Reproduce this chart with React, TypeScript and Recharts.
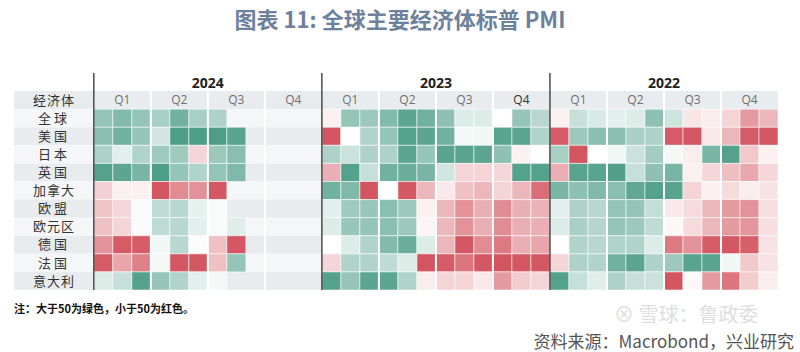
import React from 'react';
import { ScatterChart, Scatter, XAxis, YAxis, ReferenceArea, ReferenceLine } from 'recharts';

const countries = ['全球', '美国', '日本', '英国', '加拿大', '欧盟', '欧元区', '德国', '法国', '意大利'];
const years = ['2024', '2023', '2022'];
const quarters = ['Q1', 'Q2', 'Q3', 'Q4'];

// 按色深估读的 PMI（>50 绿，<50 红），每行 1-12 月
const pmi2024 = [
  [53, 53.5, 53, 52.5, 54, 52.5, 52.3, null, null, null, null, null],
  [53.3, 54, 53, 51.3, 55, 55, 55, 54.7, null, null, null, null],
  [52.3, 50.8, 52.2, 52.7, 52.7, 48.8, 52.8, 53.3, null, null, null, null],
  [54.8, 54.6, 53.8, 55, 53, 52.2, 53, 53.6, null, null, null, null],
  [48.7, 49.6, 49.6, 45.3, 46.8, 47, 45.4, null, null, null, null, null],
  [48.4, 48.9, 50.2, 51.8, 52, 50.7, 50.2, null, null, null, null, null],
  [48.3, 48.8, 50.2, 51.8, 52, 50.8, 50.2, 50.9, null, null, null, null],
  [47, 45.5, 45.5, 50.4, 52, 50.1, 48.3, 45.4, null, null, null, null],
  [45.5, 47.5, 46.5, 50.3, 45.4, 45.4, 48.3, 53, null, null, null, null],
  [51, 51.6, 54.8, 53, 52.2, 50.8, 50.3, null, null, null, null, null],
];

const pmi2023 = [
  [49.6, 53, 52.8, 53.5, 54.6, 54, 53.2, 51, 51, 50, 53, 52],
  [45.3, 50, 52.2, 53, 54.8, 54.6, 54, 50.3, 50.4, 54.7, 54.6, 52.2],
  [52.3, 51.5, 52.3, 52.3, 54.6, 53, 54.7, 54.7, 54.6, 53.2, 49.6, 50],
  [47.8, 54.8, 51.6, 54, 54.2, 53.8, 51.3, 48.8, 48.8, 48.9, 54.8, 54.8],
  [54, 53.6, 45.3, 50, 45.4, 48, 49.4, 48.3, 48, 48.8, 48, 46],
  [50.8, 52.7, 52.9, 53.3, 52.8, 49.6, 48, 47, 47.8, 46.8, 47.8, 47.9],
  [51, 52.9, 53, 53.3, 52.8, 49.7, 48, 47, 47.8, 46.8, 47.8, 47.8],
  [50, 51, 52.2, 53.5, 54.2, 51, 48, 45.4, 46.8, 46.3, 47.8, 47.5],
  [48.8, 52.2, 52.2, 51.8, 51, 45.3, 45.5, 46.2, 45.4, 45.3, 45.4, 45.4],
  [54.8, 53, 54.6, 54.6, 52.2, 49.5, 48.8, 48.8, 49.4, 47.2, 48.6, 48.8],
];

const pmi2022 = [
  [49.6, 51.6, 51.1, 50.8, 51, 53.2, 51.4, 49.3, 49.5, 48.8, 47.2, 48],
  [45.5, 52.8, 53.3, 53.3, 52.4, 52.3, 45.5, 45.4, 49.4, 48, 45.5, 45.4],
  [52.5, 45.3, 50, 50.4, 51.5, 52.6, 50.3, 49.5, 53.8, 54.8, 48.5, 49.6],
  [47.8, 54.7, 54.7, 54.9, 51.6, 53.2, 53.8, 49.6, 48.9, 48.2, 47.6, 48.9],
  [53.8, 53.2, 53.6, 53.3, 54.5, 54.8, 54.7, 48.8, 49.6, 49, 49.5, 49.2],
  [50.8, 52.3, 52, 53, 53, 51.7, 49.4, 49, 48, 47.2, 47, 49.1],
  [51, 52.4, 52.1, 53, 52.8, 51.8, 49.8, 49, 48, 47.2, 47.1, 49.1],
  [50, 52.2, 52, 52.2, 52.2, 51, 46.3, 47, 45.5, 45.4, 45.6, 49.2],
  [48.8, 52.3, 52.2, 54, 54.6, 52.3, 52.8, 54.7, 54.7, 50.4, 48.5, 49.2],
  [54.8, 51.6, 50.9, 52.3, 51.6, 51.5, 45.3, 49.8, 47.2, 46.2, 48.6, 49.5],
];

const blocks = [pmi2024, pmi2023, pmi2022];

const W = 800;
const H = 352;
const margin = { top: 73, right: 22, bottom: 62, left: 14 };
const X_DOMAIN: [number, number] = [-4.2, 36];
const Y_DOMAIN: [number, number] = [-2, 10];
const cellW = (W - margin.left - margin.right) / (X_DOMAIN[1] - X_DOMAIN[0]);
const cellH = (H - margin.top - margin.bottom) / (Y_DOMAIN[1] - Y_DOMAIN[0]);

const GREEN = [78, 158, 135];
const RED = [208, 74, 85];
const cellColor = (v: number) => {
  const t = Math.min(1, Math.abs(v - 50) / 5);
  const c = v >= 50 ? GREEN : RED;
  const ch = (i: number) => Math.round(255 + (c[i] - 255) * t);
  return `rgb(${ch(0)},${ch(1)},${ch(2)})`;
};

const cells: { x: number; y: number; v: number }[] = [];
blocks.forEach((rows, b) =>
  rows.forEach((row, r) =>
    row.forEach((v, m) => {
      if (v != null) cells.push({ x: b * 12 + m + 0.5, y: r + 0.5, v });
    })
  )
);

const rowLabels = [{ x: -2.1, y: -0.5, name: '经济体' }, ...countries.map((name, r) => ({ x: -2.1, y: r + 0.5, name }))];
const quarterLabels = years.flatMap((yr, b) =>
  quarters.map((q, k) => ({ x: b * 12 + k * 3 + 1.5, y: -0.5, name: q, dark: yr === '2023' && q === 'Q4' }))
);
const yearLabels = years.map((name, b) => ({ x: b * 12 + 6, y: -1.45, name }));

const stripe = (r: number) => (r % 2 === 0 ? '#e9ecef' : '#f5f6f7');

const CellRect = (p: any) => (
  <rect
    x={p.cx - cellW / 2}
    y={p.cy - cellH / 2}
    width={cellW}
    height={cellH}
    fill={cellColor(p.payload.v)}
    stroke="rgba(255,255,255,0.55)"
    strokeWidth={1}
  />
);

const RowText = (p: any) => (
  <text x={p.cx} y={p.cy} dy="0.36em" textAnchor="middle" fontSize={13}
    fontFamily="'Noto Sans CJK SC', sans-serif" fill="#333" letterSpacing={p.payload.name.length === 2 ? 3 : 1}>
    {p.payload.name}
  </text>
);

const QuarterText = (p: any) => (
  <text x={p.cx} y={p.cy} dy="0.36em" textAnchor="middle" fontSize={12}
    fontFamily="'Open Sans', sans-serif" fill={p.payload.dark ? '#333' : '#707070'}>
    {p.payload.name}
  </text>
);

const YearText = (p: any) => (
  <text x={p.cx} y={p.cy} dy="0.36em" textAnchor="middle" fontSize={14} fontWeight={700}
    fontFamily="'Open Sans', sans-serif" fill="#222">
    {p.payload.name}
  </text>
);

export default function App() {
  return (
    <div style={{ position: 'absolute', left: 0, top: 0, width: W, height: H, background: '#fff', overflow: 'hidden' }}>
      <div style={{ position: 'absolute', top: 3, width: W, textAlign: 'center', fontFamily: "'Noto Sans CJK SC', sans-serif",
        fontSize: 22, fontWeight: 700, color: '#6d819c', lineHeight: '30px' }}>
        图表 11: 全球主要经济体标普 PMI
      </div>
      <ScatterChart width={W} height={H} margin={margin}>
        <XAxis type="number" dataKey="x" domain={X_DOMAIN} hide />
        <YAxis type="number" dataKey="y" domain={Y_DOMAIN} reversed hide />
        {Array.from({ length: 11 }, (_, r) => (
          <ReferenceArea key={`s${r}`} x1={X_DOMAIN[0]} x2={36} y1={r - 1} y2={r} fill={stripe(r)}
            fillOpacity={1} stroke="none" zIndex={-10} />
        ))}
        <Scatter data={cells} shape={CellRect} isAnimationActive={false} />
        <Scatter data={rowLabels} shape={RowText} isAnimationActive={false} />
        <Scatter data={quarterLabels} shape={QuarterText} isAnimationActive={false} />
        <Scatter data={yearLabels} shape={YearText} isAnimationActive={false} />
        {[3, 6, 9, 15, 18, 21, 27, 30, 33].map((x) => (
          <ReferenceLine key={`q${x}`} segment={[{ x, y: -1 }, { x, y: 10 }]} stroke="#fff" strokeWidth={2} zIndex={700} />
        ))}
        {[0, 12, 24].map((x) => (
          <ReferenceLine key={`y${x}`} x={x} stroke="#4a4a4a" strokeWidth={1.5} zIndex={710} />
        ))}
      </ScatterChart>
      <div style={{ position: 'absolute', left: 14, top: 300, fontFamily: "'Noto Sans CJK SC', sans-serif",
        fontSize: 11, fontWeight: 700, color: '#111' }}>
        注：大于50为绿色，小于50为红色。
      </div>
      <div style={{ position: 'absolute', left: 614, top: 303, fontFamily: "'Noto Sans CJK SC', sans-serif",
        fontSize: 20, color: '#dedede', lineHeight: '22px' }}>
        ⊗ 雪球：鲁政委
      </div>
      <div style={{ position: 'absolute', right: 6, top: 331, fontFamily: "'Noto Sans CJK SC', sans-serif",
        fontSize: 17, color: '#555', lineHeight: '20px' }}>
        资料来源：Macrobond，兴业研究
      </div>
    </div>
  );
}
